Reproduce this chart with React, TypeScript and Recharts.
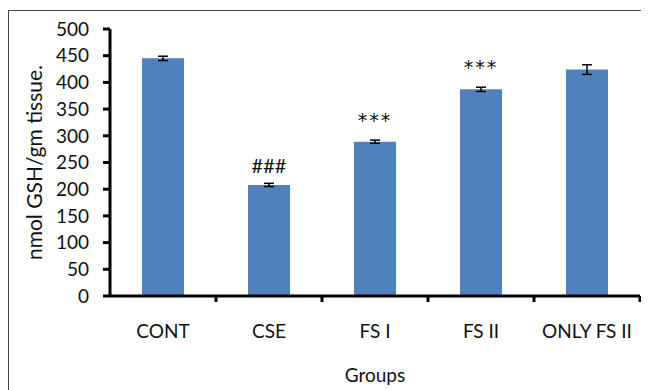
import { BarChart, Bar, XAxis, YAxis, ErrorBar, LabelList, Label } from 'recharts';

const groups = ['CONT', 'CSE', 'FS I', 'FS II', 'ONLY FS II'];
const gshValues = [445, 208, 289, 387, 424];
const gshErrors = [4, 3, 3, 4, 9];
const marks = ['', '###', '***', '***', ''];
const yTicks = [0, 50, 100, 150, 200, 250, 300, 350, 400, 450, 500];

const data = groups.map((g, i) => ({
  group: g,
  value: gshValues[i],
  err: gshErrors[i],
  sig: marks[i],
}));

const FONT = 'Lato, "Open Sans", sans-serif';
const CHART_W = 641;
const CHART_H = 382;
const MARGIN = { top: 21, right: 9, left: 0, bottom: 0 };
const Y_W = 102;
const BAND = (CHART_W - MARGIN.right - Y_W) / groups.length;

function GroupTick(props: any) {
  const { x, y, payload } = props;
  return (
    <g>
      <line x1={x + BAND / 2} x2={x + BAND / 2} y1={y} y2={y + 6} stroke="#000" strokeWidth={3} />
      <text x={x} y={y + 29} dy="0.71em" textAnchor="middle" fill="#111" fontSize={19} fontFamily={FONT}>
        {payload.value}
      </text>
    </g>
  );
}

function SigLabel(props: any) {
  const { x, y, width, value } = props;
  if (!value) return null;
  const star = value.startsWith('*');
  return (
    <text
      x={x + width / 2}
      y={y - (star ? 15 : 12)}
      textAnchor="middle"
      fill="#111"
      fontSize={star ? 19 : 20}
      letterSpacing={star ? 2 : 0}
      fontFamily={star ? '"DejaVu Sans", sans-serif' : FONT}
    >
      {value}
    </text>
  );
}

export default function App() {
  return (
    <div style={{ position: 'relative', width: CHART_W, height: CHART_H }}>
      <div
        style={{
          position: 'absolute',
          top: 2,
          left: 0,
          width: CHART_W + 10,
          height: CHART_H + 10,
          borderTop: '1.5px solid #444',
          borderLeft: '1.5px solid #444',
        }}
      />
      <BarChart width={CHART_W} height={CHART_H} data={data} margin={MARGIN} barSize={42}>
        <XAxis
          dataKey="group"
          height={94}
          axisLine={{ stroke: '#000', strokeWidth: 3 }}
          tickLine={false}
          tickSize={0}
          tickMargin={0}
          tick={<GroupTick />}
          interval={0}
        >
          <Label
            content={(p: any) => (
              <text
                x={p.viewBox.x + p.viewBox.width / 2}
                y={366}
                textAnchor="middle"
                dominantBaseline="central"
                fontSize={19}
                fontFamily={FONT}
                fill="#111"
              >
                Groups
              </text>
            )}
          />
        </XAxis>
        <YAxis
          width={Y_W}
          domain={[0, 500]}
          ticks={yTicks}
          interval={0}
          axisLine={{ stroke: '#000', strokeWidth: 3 }}
          tickLine={{ stroke: '#000', strokeWidth: 3 }}
          tickSize={7}
          tickMargin={14}
          tick={{ fill: '#111', fontSize: 19, fontFamily: FONT }}
        >
          <Label
            content={(p: any) => {
              const cx = 25;
              const cy = p.viewBox.y + p.viewBox.height / 2;
              return (
                <text
                  x={cx}
                  y={cy}
                  transform={`rotate(-90 ${cx} ${cy})`}
                  textAnchor="middle"
                  dominantBaseline="central"
                  fontSize={21}
                  fontFamily={FONT}
                  fill="#111"
                >
                  nmol GSH/gm tissue.
                </text>
              );
            }}
          />
        </YAxis>
        <Bar dataKey="value" fill="#4F81BD" isAnimationActive={false}>
          <ErrorBar dataKey="err" width={5} stroke="#000" strokeWidth={1.5} direction="y" />
          <LabelList dataKey="sig" content={<SigLabel />} />
        </Bar>
      </BarChart>
    </div>
  );
}
